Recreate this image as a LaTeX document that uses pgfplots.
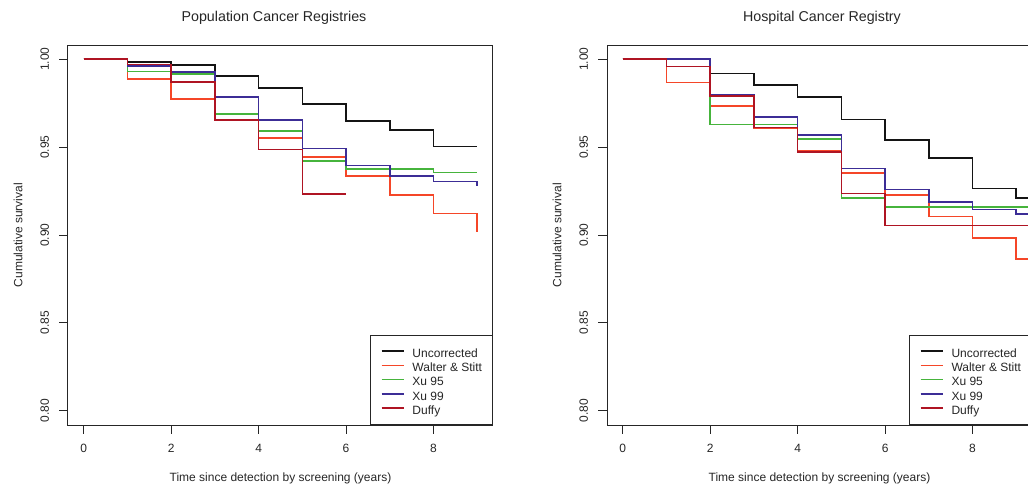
\documentclass[border=0pt]{standalone}
\usepackage{fontspec}
\setmainfont{Liberation Sans}
\usepackage{pgfplots}
\pgfplotsset{compat=1.18}

\definecolor{unc}{RGB}{20,20,20}
\definecolor{walter}{RGB}{245,70,40}
\definecolor{xuA}{RGB}{70,180,60}
\definecolor{xuB}{RGB}{60,45,150}
\definecolor{duffy}{RGB}{175,20,35}

% 1 px of the reference = 0.75pt
\pgfplotsset{
  survplot/.style={
    scale only axis, width=318.75pt, height=285pt,
    anchor=north west,
    xmin=-0.36, xmax=9.36, ymin=0.792, ymax=1.008,
    xtick={0,2,4,6,8}, ytick={0.8,0.85,0.9,0.95,1},
    xtick pos=bottom, ytick pos=left,
    tick align=outside, major tick length=6.4pt,
    axis line style={draw=black!85, line width=0.75pt},
    tick style={black!85, line width=0.75pt},
    /pgf/number format/assume math mode=true,
    ticklabel style={font=\fontsize{9}{10.8}\selectfont, text=black!85},
    yticklabel style={rotate=90, anchor=base, inner sep=0pt,
      /pgf/number format/.cd, fixed, fixed zerofill, precision=2},
    xticklabel style={anchor=base, inner sep=0pt},
    xticklabel shift=14.5pt, yticklabel shift=8pt,
    xlabel={Time since detection by screening (years)},
    ylabel={Cumulative survival},
    label style={font=\fontsize{9}{10.8}\selectfont, text=black!85},
    xlabel style={at={(axis description cs:0.5,-0.148)}, anchor=base},
    ylabel style={at={(axis description cs:-0.1075,0.5)}, anchor=base},
    every axis title shift=0pt,
    title style={font=\fontsize{10.7}{13}\selectfont, text=black!85, anchor=base, yshift=0pt},
    every axis plot/.append style={const plot, line width=1.2pt, no marks},
    legend cell align=left,
    legend image code/.code={\draw[#1] (0pt,0.4pt) -- (16.5pt,0.4pt); \path (22.5pt,0pt);},
    legend style={at={(1,0)}, anchor=south east, draw=black!85, line width=0.6pt,
      inner xsep=7.9pt, inner ysep=6.6pt, row sep=0pt,
      font=\fontsize{9}{10.8}\selectfont, text=black!85,
      nodes={inner sep=0pt, text height=9.6pt, text depth=1.1pt}},
  }
}

\begin{document}
\begin{tikzpicture}

\begin{axis}[survplot, at={(51pt,-33.75pt)},
  title={Population Cancer Registries},
  title style={at={(axis description cs:0.4847,1.063)}}]
\addplot[unc] coordinates {(0,1)(1,0.9985)(2,0.9966)(3,0.9905)(4,0.9835)(5,0.9746)(6,0.9648)(7,0.9597)(8,0.9502)(9,0.9502)};
\addlegendentry{Uncorrected}
\addplot[walter] coordinates {(0,1)(1,0.9886)(2,0.9773)(3,0.9657)(4,0.9551)(5,0.9443)(6,0.9335)(7,0.9229)(8,0.9123)(9,0.9019)};
\addlegendentry{Walter \& Stitt}
\addplot[xuA] coordinates {(0,1)(1,0.9930)(2,0.9915)(3,0.9689)(4,0.9591)(5,0.9419)(6,0.9375)(7,0.9375)(8,0.9355)(9,0.9355)};
\addlegendentry{Xu 95}
\addplot[xuB] coordinates {(0,1)(1,0.9962)(2,0.9928)(3,0.9784)(4,0.9652)(5,0.9492)(6,0.9394)(7,0.9335)(8,0.9303)(9,0.9278)};
\addlegendentry{Xu 99}
\addplot[duffy] coordinates {(0,1)(1,0.9970)(2,0.9869)(3,0.9653)(4,0.9487)(5,0.9233)(6,0.9233)};
\addlegendentry{Duffy}
\end{axis}

\begin{axis}[survplot, at={(455.25pt,-33.75pt)},
  title={Hospital Cancer Registry},
  title style={at={(axis description cs:0.5059,1.063)}}]
\addplot[unc] coordinates {(0,1)(1,1)(2,0.9917)(3,0.9854)(4,0.9784)(5,0.9657)(6,0.9540)(7,0.9436)(8,0.9265)(9,0.9212)(9.6,0.9212)};
\addlegendentry{Uncorrected}
\addplot[walter] coordinates {(0,1)(1,0.9867)(2,0.9733)(3,0.9608)(4,0.9476)(5,0.9351)(6,0.9227)(7,0.9106)(8,0.8983)(9,0.8864)(9.6,0.8864)};
\addlegendentry{Walter \& Stitt}
\addplot[xuA] coordinates {(0,1)(1,1)(2,0.9627)(3,0.9627)(4,0.9547)(5,0.9210)(6,0.9159)(7,0.9159)(8,0.9159)(9,0.9159)(9.6,0.9159)};
\addlegendentry{Xu 95}
\addplot[xuB] coordinates {(0,1)(1,1)(2,0.9795)(3,0.9670)(4,0.9568)(5,0.9377)(6,0.9258)(7,0.9186)(8,0.9144)(9,0.9119)(9.6,0.9119)};
\addlegendentry{Xu 99}
\addplot[duffy] coordinates {(0,1)(1,0.9958)(2,0.9790)(3,0.9612)(4,0.9472)(5,0.9237)(6,0.9053)(7,0.9053)(8,0.9053)(9,0.9053)(9.6,0.9053)};
\addlegendentry{Duffy}
\end{axis}

\pgfresetboundingbox
\path (0pt,0pt) rectangle (771pt,-366.75pt);
\end{tikzpicture}
\end{document}
